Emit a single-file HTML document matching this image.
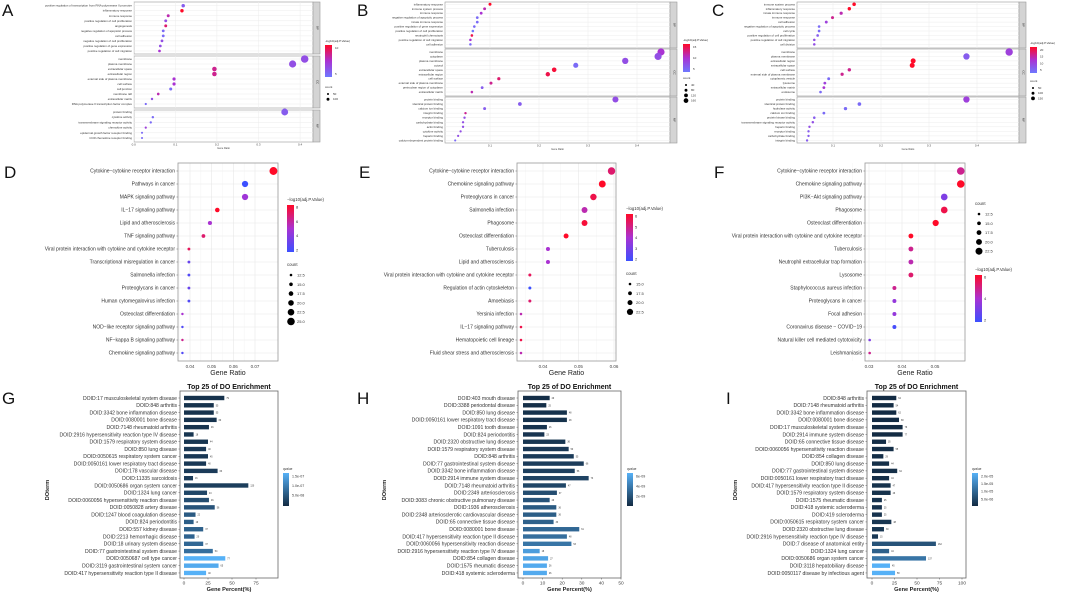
<!DOCTYPE html>
<html><head><meta charset="utf-8"><style>
html,body{margin:0;padding:0;background:#fff;width:1065px;height:593px;overflow:hidden}
svg{display:block;font-family:"Liberation Sans",Arial,sans-serif}
</style></head><body>
<svg id="fig" width="1065" height="593" viewBox="0 0 1065 593" xmlns="http://www.w3.org/2000/svg"></svg>
<script>
// ---------- DATA ----------
const aLabels=[["positive regulation of transcription from RNA polymerase II promoter","inflammatory response","immune response","positive regulation of cell proliferation","angiogenesis","negative regulation of apoptotic process","cell adhesion","negative regulation of cell proliferation","positive regulation of gene expression","positive regulation of cell migration"],["membrane","plasma membrane","extracellular space","extracellular region","external side of plasma membrane","cell surface","cell junction","membrane raft","extracellular matrix","RNA polymerase II transcription factor complex"],["protein binding","cytokine activity","transmembrane signaling receptor activity","chemokine activity","epidermal growth factor receptor binding","CCR chemokine receptor binding"]];
const aRatio=[[.119,.116,.083,.077,.077,.071,.071,.068,.064,.062],[.411,.382,.194,.194,.097,.097,.089,.059,.044,.029],[.363,.046,.041,.029,.02,.02]];
const aSig=[[.2,1,.6,.3,.8,.1,.1,.3,.3,.5],[.3,.3,.7,.7,.5,.5,.1,.6,.3,.1],[.2,.1,.1,.4,.1,.1]];
const bLabels=[["inflammatory response","immune system process","immune response","negative regulation of apoptotic process","innate immune response","positive regulation of gene expression","positive regulation of cell proliferation","neutrophil chemotaxis","positive regulation of cell migration","cell adhesion"],["membrane","cytoplasm","plasma membrane","cytosol","extracellular space","extracellular region","cell surface","external side of plasma membrane","perinuclear region of cytoplasm","extracellular matrix"],["protein binding","identical protein binding","calcium ion binding","integrin binding","receptor binding","carbohydrate binding","actin binding","cytokine activity","heparin binding","calcium-dependent protein binding"]];
const bRatio=[[.1,.089,.082,.074,.074,.068,.065,.063,.06,.06],[.449,.443,.376,.275,.231,.218,.118,.102,.084,.063],[.356,.161,.089,.05,.048,.045,.045,.04,.035,.029]];
const bSig=[[1,.6,.5,.1,.1,.1,0,.9,.5,.1],[.5,.3,.3,.1,.95,.9,.8,.7,.2,.6],[.3,.2,.2,.7,.3,.3,.3,.3,.3,.1]];
const cLabels=[["immune system process","inflammatory response","innate immune response","immune response","cell adhesion","negative regulation of apoptotic process","cell cycle","positive regulation of cell proliferation","positive regulation of cell migration","cell division"],["membrane","plasma membrane","extracellular region","extracellular space","cell surface","external side of plasma membrane","cytoplasmic vesicle","lysosome","extracellular matrix","endosome"],["protein binding","identical protein binding","hydrolase activity","calcium ion binding","protein kinase binding","transmembrane signaling receptor activity","heparin binding","receptor binding","carbohydrate binding","integrin binding"]];
const cRatio=[[.144,.134,.117,.099,.086,.071,.071,.068,.061,.061],[.467,.378,.267,.265,.134,.119,.091,.083,.081,.074],[.378,.155,.126,.081,.061,.058,.051,.049,.049,.046]];
const cSig=[[1,1,.6,.7,.4,.1,.1,.2,.3,.3],[.4,.2,1,1,.7,.7,.1,.4,.5,.1],[.4,.1,.1,.1,.2,.3,.3,.2,.2,.2]];
const dLabels=["Cytokine−cytokine receptor interaction","Pathways in cancer","MAPK signaling pathway","IL−17 signaling pathway","Lipid and atherosclerosis","TNF signaling pathway","Viral protein interaction with cytokine and cytokine receptor","Transcriptional misregulation in cancer","Salmonella infection","Proteoglycans in cancer","Human cytomegalovirus infection","Osteoclast differentiation","NOD−like receptor signaling pathway","NF−kappa B signaling pathway","Chemokine signaling pathway"];
const dRatio=[.0785,.0654,.0654,.0526,.0492,.0462,.0395,.0395,.0395,.0395,.0395,.0365,.0365,.0365,.0365];
const dSig=[1,0,.45,1,.5,.8,.85,.2,.1,.2,.1,.5,.1,.7,.1];
const eLabels=["Cytokine−cytokine receptor interaction","Chemokine signaling pathway","Proteoglycans in cancer","Salmonella infection","Phagosome","Osteoclast differentiation","Tuberculosis","Lipid and atherosclerosis","Viral protein interaction with cytokine and cytokine receptor","Regulation of actin cytoskeleton","Amoebiasis","Yersinia infection","IL−17 signaling pathway","Hematopoietic cell lineage","Fluid shear stress and atherosclerosis"];
const eRatio=[.0593,.0567,.0542,.0517,.0517,.0465,.0414,.0414,.0363,.0363,.0363,.0338,.0338,.0338,.0338];
const eSig=[.8,1,.9,.6,.95,1,.5,.5,.85,0,.8,.6,.9,.9,.6];
const fLabels=["Cytokine−cytokine receptor interaction","Chemokine signaling pathway","PI3K−Akt signaling pathway","Phagosome","Osteoclast differentiation","Viral protein interaction with cytokine and cytokine receptor","Tuberculosis","Neutrophil extracellular trap formation","Lysosome","Staphylococcus aureus infection","Proteoglycans in cancer","Focal adhesion","Coronavirus disease − COVID−19","Natural killer cell mediated cytotoxicity","Leishmaniasis"];
const fRatio=[.0578,.0578,.0528,.0528,.0502,.0427,.0427,.0427,.0427,.0377,.0377,.0377,.0377,.0302,.0302];
const fSig=[.7,1,.3,.9,1,1,.7,.6,.8,.7,.4,.4,.05,.3,.7];
const gLabels=["DOID:17 musculoskeletal system disease","DOID:848 arthritis","DOID:3342 bone inflammation disease","DOID:0080001 bone disease","DOID:7148 rheumatoid arthritis","DOID:2916 hypersensitivity reaction type IV disease","DOID:1579 respiratory system disease","DOID:850 lung disease","DOID:0050615 respiratory system cancer","DOID:0050161 lower respiratory tract disease","DOID:178 vascular disease","DOID:11335 sarcoidosis","DOID:0050686 organ system cancer","DOID:1324 lung cancer","DOID:0060056 hypersensitivity reaction disease","DOID:0050828 artery disease","DOID:1247 blood coagulation disease","DOID:824 periodontitis","DOID:557 kidney disease","DOID:2213 hemorrhagic disease","DOID:18 urinary system disease","DOID:77 gastrointestinal system disease","DOID:0050687 cell type cancer","DOID:3119 gastrointestinal system cancer","DOID:417 hypersensitivity reaction type II disease"];
const gPct=[42,31,31,34,26,10,25,23,25,23,35,9.4,67,24,26,32,12,10,20,11,20,30,43,36,23];
const gCount=[79,55,55,60,46,18,44,40,45,40,63,16,120,43,46,56,22,19,37,20,37,54,77,65,40];
const gQ=[.05,.05,.05,.06,.06,.08,.08,.1,.1,.1,.12,.12,.14,.2,.25,.3,.35,.38,.4,.42,.45,.5,1,.95,1];
const hLabels=["DOID:403 mouth disease","DOID:3388 periodontal disease","DOID:850 lung disease","DOID:0050161 lower respiratory tract disease","DOID:1091 tooth disease","DOID:824 periodontitis","DOID:2320 obstructive lung disease","DOID:1579 respiratory system disease","DOID:848 arthritis","DOID:77 gastrointestinal system disease","DOID:3342 bone inflammation disease","DOID:2914 immune system disease","DOID:7148 rheumatoid arthritis","DOID:2349 arteriosclerosis","DOID:3083 chronic obstructive pulmonary disease","DOID:1936 atherosclerosis","DOID:2348 arteriosclerotic cardiovascular disease","DOID:65 connective tissue disease","DOID:0080001 bone disease","DOID:417 hypersensitivity reaction type II disease","DOID:0060056 hypersensitivity reaction disease","DOID:2916 hypersensitivity reaction type IV disease","DOID:854 collagen disease","DOID:1575 rheumatic disease","DOID:418 systemic scleroderma"];
const hPct=[13.6,11.9,22.4,22.4,12.2,10.9,21.6,23.3,25.9,31,26.4,33.5,21.9,17.3,13.6,17,17,15.6,28.7,22.4,24.7,8.5,12.8,12.2,12.2];
const hCount=[29,25,48,48,26,23,36,50,55,66,56,73,47,37,29,36,36,33,61,48,53,18,27,26,26];
const hQ=[.02,.03,.05,.05,.06,.07,.08,.1,.12,.13,.15,.18,.2,.25,.3,.35,.38,.4,.45,.5,.55,.85,.9,.95,.95];
const iLabels=["DOID:848 arthritis","DOID:7148 rheumatoid arthritis","DOID:3342 bone inflammation disease","DOID:0080001 bone disease","DOID:17 musculoskeletal system disease","DOID:2914 immune system disease","DOID:65 connective tissue disease","DOID:0060056 hypersensitivity reaction disease","DOID:854 collagen disease","DOID:850 lung disease","DOID:77 gastrointestinal system disease","DOID:0050161 lower respiratory tract disease","DOID:417 hypersensitivity reaction type II disease","DOID:1579 respiratory system disease","DOID:1575 rheumatic disease","DOID:418 systemic scleroderma","DOID:419 scleroderma","DOID:0050615 respiratory system cancer","DOID:2320 obstructive lung disease","DOID:2916 hypersensitivity reaction type IV disease","DOID:7 disease of anatomical entity","DOID:1324 lung cancer","DOID:0050686 organ system cancer","DOID:3118 hepatobiliary disease","DOID:0050117 disease by infectious agent"];
const iPct=[27,24,27,30,34,34,15.6,24,12.6,19,28,19,20.7,20.7,11,11,11,21.5,13.3,6.7,71,19,60,20,25.6];
const iCount=[62,54,62,68,76,77,35,55,29,44,64,44,47,46,25,25,25,48,30,15,162,44,137,45,58];
const iQ=[0,0,0,0,0,0,.02,.02,.02,.03,.03,.03,.05,.05,.06,.06,.06,.08,.08,.1,.3,.4,.55,1,1];

// ---------- HELPERS ----------
const svg=document.getElementById('fig');
const NS='http://www.w3.org/2000/svg';
function el(tag,attrs,parent,txt){const e=document.createElementNS(NS,tag);for(const k in attrs)e.setAttribute(k,attrs[k]);if(txt!==undefined)e.textContent=txt;(parent||svg).appendChild(e);return e;}
function lerp(a,b,t){return a.map((v,i)=>Math.round(v+(b[i]-v)*t));}
function sigCol(t,low){low=low||[60,80,255];const mid=[170,50,210],hi=[255,10,40];const c=t<.5?lerp(low,mid,t*2):lerp(mid,hi,(t-.5)*2);return 'rgb('+c.join(',')+')';}
function qCol(t){const c=lerp([19,43,67],[86,177,247],t);return 'rgb('+c.join(',')+')';}
function grad(id,stops){const d=el('defs',{});const g=el('linearGradient',{id:id,x1:0,y1:1,x2:0,y2:0},d);stops.forEach((s,i)=>el('stop',{offset:i/(stops.length-1),'stop-color':s},g));}
grad('sigg',[sigCol(0),sigCol(.5),sigCol(1)]);
grad('sigg2',[sigCol(0,[110,120,255]),sigCol(.5,[110,120,255]),sigCol(1,[110,120,255])]);
grad('qg',[qCol(0),qCol(1)]);
function letter(t,x,y){const e=el('text',{x:x,y:y,'font-size':17,fill:'#111','font-weight':300},svg,t);}

// ---------- FACETED GO DOT PLOTS (A-C) ----------
function facetPlot(name,labels,ratios,sigs,cfg){
  const g=el('g',{});
  const px=v=>cfg.zero+v*cfg.scale;
  const strips=['BP','CC','MF'];
  cfg.facets.forEach((f,fi)=>{
    el('rect',{x:cfg.x0,y:f[0],width:cfg.x1-cfg.x0,height:f[1]-f[0],fill:'#fff',stroke:'#9a9a9a','stroke-width':.6},g);
    cfg.ticks.forEach(t=>el('line',{x1:px(t),x2:px(t),y1:f[0],y2:f[1],stroke:'#ececec','stroke-width':.5},g));
    const st=el('rect',{x:cfg.x1,y:f[0],width:7,height:f[1]-f[0],fill:'#d4d4d4',stroke:'#9a9a9a','stroke-width':.6},g);
    
    el('text',{x:cfg.x1+3.5,y:(f[0]+f[1])/2,'font-size':3,'text-anchor':'middle',transform:`rotate(90 ${cfg.x1+3.5} ${(f[0]+f[1])/2})`,fill:'#333'},g,strips[fi]);
    labels[fi].forEach((lab,i)=>{
      const y=cfg.rows[fi][0]+i*cfg.rows[fi][1];
      el('line',{x1:cfg.x0,x2:cfg.x1,y1:y,y2:y,stroke:'#ececec','stroke-width':.5},g);
      el('text',{x:cfg.x0-2,y:y+1,'font-size':2.9,'text-anchor':'end',fill:'#333'},g,lab);
      const r=0.9+ratios[fi][i]*cfg.rs;
      const c=el('circle',{cx:px(ratios[fi][i]),cy:y,r:r,fill:sigCol(sigs[fi][i],[110,120,255])},g);
      
    });
  });
  const yb=cfg.facets[2][1];
  cfg.ticks.forEach(t=>el('text',{x:px(t),y:yb+3.5,'font-size':3,'text-anchor':'middle',fill:'#444'},g,t.toFixed(1)));
  el('text',{x:(cfg.x0+cfg.x1)/2,y:yb+7,'font-size':2.5,'text-anchor':'middle',fill:'#444'},g,'Gene Ratio');
  const L=cfg.leg;
  el('text',{x:L.x,y:L.ty,'font-size':3,fill:'#333'},g,'-log10(adj.P.Value)');
  const cb=el('rect',{x:L.x,y:L.b0,width:7,height:L.b1-L.b0,fill:'url(#sigg2)'},g);
  L.bl.forEach((s,i)=>el('text',{x:L.x+10,y:L.b0+3+i*(L.b1-L.b0-6)/(L.bl.length-1)+1,'font-size':3,fill:'#333'},g,s));
  el('text',{x:L.x,y:L.cy,'font-size':3,fill:'#333'},g,'count');
  L.cl.forEach((s,i)=>{const y=L.cy+6+i*5.2;el('circle',{cx:L.x+3,cy:y,r:1+i*0.45,fill:'#000'},g);el('text',{x:L.x+8,y:y+1,'font-size':3,fill:'#333'},g,s);});
}
letter('A',2,16);letter('B',357,16);letter('C',712,16);
facetPlot('go-dotplot-a',aLabels,aRatio,aSig,{x0:134,x1:313,zero:133.7,scale:416,ticks:[0,.1,.2,.3,.4],facets:[[2,54],[56,108],[110,142]],rows:[[5.7,5.03],[59,5.0],[112,5.2]],rs:7,leg:{x:325,ty:42,b0:45,b1:77,bl:['10','5'],cy:88,cl:['50','100']}});
facetPlot('go-dotplot-b',bLabels,bRatio,bSig,{x0:445,x1:670,zero:441,scale:490,ticks:[.1,.2,.3,.4],facets:[[2,48],[49,96],[97,143]],rows:[[4.3,4.45],[52,4.45],[99.5,4.55]],rs:6,leg:{x:683,ty:41,b0:44,b1:72,bl:['15','10','5'],cy:79,cl:['40','80','120','160']}});
facetPlot('go-dotplot-c',cLabels,cRatio,cSig,{x0:797,x1:1019,zero:785,scale:480,ticks:[.1,.2,.3,.4],facets:[[2,48],[49,96],[97,143]],rows:[[4.3,4.45],[52,4.45],[99.5,4.55]],rs:6,leg:{x:1030,ty:44,b0:47,b1:73,bl:['20','15','10','5'],cy:82,cl:['50','100','150']}});

// ---------- KEGG DOT PLOTS (D-F) ----------
function keggPlot(name,labels,ratios,sigs,cfg){
  const g=el('g',{});
  const px=v=>cfg.x0+(v-cfg.v0)*cfg.scale;
  const [bx0,by0,bx1,by1]=cfg.box;
  el('rect',{x:bx0,y:by0,width:bx1-bx0,height:by1-by0,fill:'#fff'},g);
  cfg.ticks.forEach(t=>{el('line',{x1:px(t),x2:px(t),y1:by0,y2:by1,stroke:'#e8e8e8','stroke-width':.6},g);el('line',{x1:px(t-0.005),x2:px(t-0.005),y1:by0,y2:by1,stroke:'#f3f3f3','stroke-width':.4},g);});
  labels.forEach((lab,i)=>{
    const y=171+i*13;
    el('line',{x1:bx0,x2:bx1,y1:y,y2:y,stroke:'#e8e8e8','stroke-width':.6},g);
    el('text',{x:bx0-3,y:y+1.7,'font-size':5,'text-anchor':'end',fill:'#333'},g,lab);
    el('line',{x1:bx0-1.5,x2:bx0,y1:y,y2:y,stroke:'#555','stroke-width':.5},g);
    const r=1.2+(ratios[i]-cfg.rmin)*cfg.rk;
    const c=el('circle',{cx:px(ratios[i]),cy:y,r:Math.max(1,r),fill:sigCol(sigs[i])},g);
    
  });
  el('rect',{x:bx0,y:by0,width:bx1-bx0,height:by1-by0,fill:'none',stroke:'#999','stroke-width':.8},g);
  cfg.ticks.forEach(t=>el('text',{x:px(t),y:by1+7,'font-size':4.5,'text-anchor':'middle',fill:'#444'},g,String(t)));
  const xt=el('text',{x:(bx0+bx1)/2,y:by1+14,'font-size':7,'text-anchor':'middle',fill:'#222'},g,'Gene Ratio');
  const L=cfg.leg;
  el('text',{x:L.x,y:L.ty,'font-size':4.3,fill:'#333'},g,'−log10(adj.P.Value)');
  const cb=el('rect',{x:L.x,y:L.b0,width:7,height:L.b1-L.b0,fill:'url(#sigg)'},g);
  L.bl.forEach((s,i)=>el('text',{x:L.x+9,y:L.b0+2+i*(L.b1-L.b0-4)/(L.bl.length-1)+1.5,'font-size':4,fill:'#333'},g,s));
  el('text',{x:L.x,y:L.cy,'font-size':4.3,fill:'#333'},g,'count');
  L.cl.forEach((s,i)=>{const y=L.cy+9+i*9.3;el('circle',{cx:L.x+4,cy:y,r:1.3+i*cfg.lr,fill:'#000'},g);el('text',{x:L.x+10,y:y+1.5,'font-size':4,fill:'#333'},g,s);});
}
letter('D',4,178);letter('E',359,178);letter('F',714,178);
keggPlot('kegg-dotplot-d',dLabels,dRatio,dSig,{box:[178,163,278,361],x0:190,v0:.04,scale:2167,ticks:[.04,.05,.06,.07],rmin:.036,rk:65,lr:.5,leg:{x:287,ty:201,b0:205,b1:252,bl:['8','6','4','2'],cy:266,cl:['12.5','15.0','17.5','20.0','22.5','25.0']}});
keggPlot('kegg-dotplot-e',eLabels,eRatio,eSig,{box:[517,163,616,361],x0:543,v0:.04,scale:3550,ticks:[.04,.05,.06],rmin:.033,rk:95,lr:.6,leg:{x:626,ty:210,b0:214,b1:261,bl:['6','5','4','3','2'],cy:275,cl:['15.0','17.5','20.0','22.5']}});
keggPlot('kegg-dotplot-f',fLabels,fRatio,fSig,{box:[865,163,965,361],x0:869,v0:.03,scale:3300,ticks:[.03,.04,.05],rmin:.029,rk:90,lr:.55,leg:{x:975,ty:271,b0:275,b1:322,bl:['6','4','2'],cy:205,cl:['12.5','15.0','17.5','20.0','22.5']}});

// ---------- DO BAR CHARTS (G-I) ----------
function barPlot(name,labels,pct,counts,qs,cfg){
  const g=el('g',{});
  const px=v=>cfg.x0+v*cfg.scale;
  const [bx0,by0,bx1,by1]=cfg.box;
  const tt=el('text',{x:(bx0+bx1)/2,y:389,'font-size':7,'font-weight':'bold','text-anchor':'middle',fill:'#111'},g,'Top 25 of DO Enrichment');
  labels.forEach((lab,i)=>{
    const y=398+i*7.29;
    el('text',{x:bx0-3,y:y+1.8,'font-size':5.1,'text-anchor':'end',fill:'#333'},g,lab);
    el('line',{x1:bx0-1.5,x2:bx0,y1:y,y2:y,stroke:'#555','stroke-width':.5},g);
    const b=el('rect',{x:px(0),y:y-2.2,width:px(pct[i])-px(0),height:4.4,fill:qCol(qs[i])},g);
    
    el('text',{x:px(pct[i])+2,y:y+1,'font-size':2.3,fill:'#333'},g,counts[i]);
  });
  el('rect',{x:bx0,y:by0,width:bx1-bx0,height:by1-by0,fill:'none',stroke:'#666','stroke-width':.8},g);
  cfg.ticks.forEach(t=>{el('line',{x1:px(t),x2:px(t),y1:by1,y2:by1+1.5,stroke:'#555','stroke-width':.5},g);el('text',{x:px(t),y:by1+6.5,'font-size':4.8,'text-anchor':'middle',fill:'#444'},g,String(t));});
  const xt=el('text',{x:(bx0+bx1)/2,y:by1+13,'font-size':5.6,'font-weight':'bold','text-anchor':'middle',fill:'#222'},g,'Gene Percent(%)');
  const yt=el('text',{x:cfg.ytx,y:490,'font-size':5.6,'font-weight':'bold','text-anchor':'middle',fill:'#222',transform:`rotate(-90 ${cfg.ytx} 490)`},g,'DOterm');
  const L=cfg.leg;
  el('text',{x:L.x,y:470,'font-size':3.2,fill:'#333'},g,'qvalue');
  const cb=el('rect',{x:L.x,y:473,width:6,height:33,fill:'url(#qg)'},g);
  L.bl.forEach((s,i)=>el('text',{x:L.x+9,y:476+i*L.st+1.3,'font-size':3.6,fill:'#333'},g,s));
}
letter('G',2,404);letter('H',357,404);letter('I',726,404);
barPlot('do-barchart-g',gLabels,gPct,gCount,gQ,{box:[180,391,278,578],x0:184,scale:0.96,ticks:[0,25,50,75],ytx:49,leg:{x:283,st:9.5,bl:['1.5e-07','1.0e-07','5.0e-08']}});
barPlot('do-barchart-h',hLabels,hPct,hCount,hQ,{box:[518,391,621,578],x0:523,scale:1.96,ticks:[0,10,20,30,40,50],ytx:386,leg:{x:627,st:10,bl:['6e-09','4e-09','2e-09']}});
barPlot('do-barchart-i',iLabels,iPct,iCount,iQ,{box:[867,391,966,578],x0:872,scale:0.9,ticks:[0,25,50,75,100],ytx:737,leg:{x:972,st:7.7,bl:['2.0e-05','1.5e-05','1.0e-05','5.0e-06']}});
</script>
</body></html>
